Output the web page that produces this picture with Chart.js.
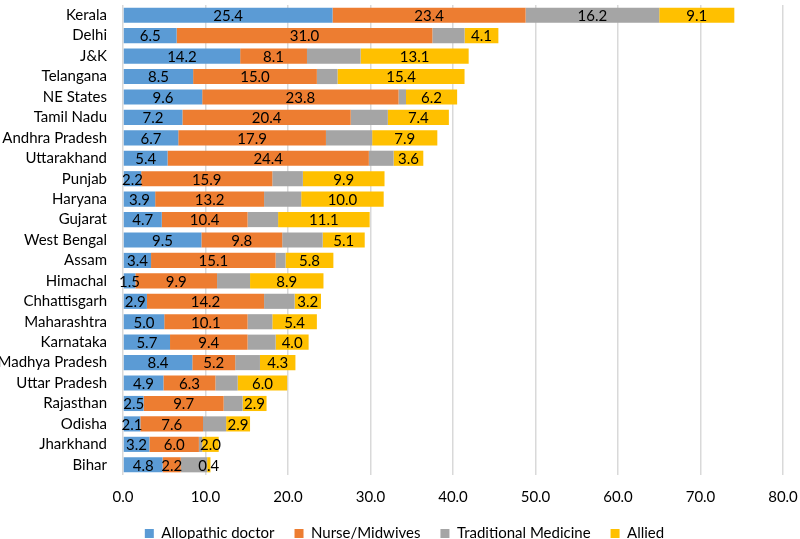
<!DOCTYPE html>
<html lang="en">
<head>
    <meta charset="UTF-8">
    <title>Health workforce by state</title>
    <script src="https://cdn.jsdelivr.net/npm/chart.js"></script>
    <style>
        body { margin: 0; background: #fff; }
        #chartContainer { width: 800px; height: 539px; }
    </style>
</head>
<body>
    <div id="chartContainer">
        <canvas id="workforceChart" width="800" height="539"></canvas>
    </div>
    <script>
        // States, top to bottom
        const states = ["Kerala", "Delhi", "J&K", "Telangana", "NE States", "Tamil Nadu", "Andhra Pradesh",
            "Uttarakhand", "Punjab", "Haryana", "Gujarat", "West Bengal", "Assam", "Himachal", "Chhattisgarh",
            "Maharashtra", "Karnataka", "Madhya Pradesh", "Uttar Pradesh", "Rajasthan", "Odisha", "Jharkhand", "Bihar"];

        const allopathic = [25.4, 6.5, 14.2, 8.5, 9.6, 7.2, 6.7, 5.4, 2.2, 3.9, 4.7, 9.5, 3.4, 1.5, 2.9, 5.0, 5.7, 8.4, 4.9, 2.5, 2.1, 3.2, 4.8];
        const nurses = [23.4, 31.0, 8.1, 15.0, 23.8, 20.4, 17.9, 24.4, 15.9, 13.2, 10.4, 9.8, 15.1, 9.9, 14.2, 10.1, 9.4, 5.2, 6.3, 9.7, 7.6, 6.0, 2.2];
        const traditional = [16.2, 3.9, 6.5, 2.5, 0.9, 4.5, 5.6, 3.0, 3.7, 4.5, 3.7, 4.9, 1.2, 4.0, 3.7, 3.0, 3.4, 3.0, 2.7, 2.3, 2.8, 0.4, 3.2];
        const allied = [9.1, 4.1, 13.1, 15.4, 6.2, 7.4, 7.9, 3.6, 9.9, 10.0, 11.1, 5.1, 5.8, 8.9, 3.2, 5.4, 4.0, 4.3, 6.0, 2.9, 2.9, 2.0, 0.4];
        const tradLabelled = ["Kerala"];

        const xTicks = [0, 10, 20, 30, 40, 50, 60, 70, 80];

        const FONT = "Lato, 'Open Sans', sans-serif";
        const TEXT = "#000000";

        // Simple value labels drawn in the middle of each segment
        const segmentLabels = {
            id: "segmentLabels",
            afterDatasetsDraw(chart) {
                const ctx = chart.ctx;
                ctx.save();
                ctx.font = "15px " + FONT;
                ctx.fillStyle = TEXT;
                ctx.textAlign = "center";
                ctx.textBaseline = "middle";
                chart.data.datasets.forEach((ds, di) => {
                    const meta = chart.getDatasetMeta(di);
                    meta.data.forEach((bar, i) => {
                        if (ds.label === "Traditional Medicine" && !tradLabelled.includes(states[i])) return;
                        const cx = (bar.x + bar.base) / 2;
                        ctx.fillText(ds.data[i].toFixed(1), cx, bar.y + 1);
                    });
                });
                ctx.restore();
            }
        };

        // Fix the legend height so the plot gets the room above it, and nudge it a bit
        const legendTweak = {
            id: "legendTweak",
            beforeInit(chart) {
                const fit = chart.legend.fit;
                chart.legend.fit = function () {
                    fit.bind(chart.legend)();
                    this.height = 35;
                };
            },
            afterLayout(chart) {
                chart.legend.left += 13;
                chart.legend.right += 13;
                chart.legend.top += 2;
                chart.legend.bottom += 2;
            }
        };

        const ctx = document.getElementById("workforceChart").getContext("2d");
        new Chart(ctx, {
            type: "bar",
            data: {
                labels: states,
                datasets: [
                    { label: "Allopathic doctor", data: allopathic, backgroundColor: "#5B9BD5" },
                    { label: "Nurse/Midwives", data: nurses, backgroundColor: "#ED7D31" },
                    { label: "Traditional Medicine", data: traditional, backgroundColor: "#A5A5A5" },
                    { label: "Allied", data: allied, backgroundColor: "#FFC000" },
                ],
            },
            options: {
                indexAxis: "y",
                responsive: false,
                animation: false,
                layout: { padding: { top: 5, right: 17, bottom: 0, left: 0 } },
                datasets: { bar: { barPercentage: 0.74, categoryPercentage: 1.0 } },
                plugins: {
                    legend: {
                        position: "bottom",
                        labels: {
                            font: { family: FONT, size: 15 },
                            color: TEXT,
                            boxWidth: 9,
                            boxHeight: 9,
                            padding: 20,
                        },
                    },
                    tooltip: { enabled: false },
                },
                scales: {
                    x: {
                        stacked: true,
                        min: 0,
                        max: 80,
                        afterBuildTicks: (scale) => { scale.ticks = xTicks.map(v => ({ value: v })); },
                        afterFit: (scale) => {
                            scale.paddingLeft = 0;
                            scale.paddingRight = 0;
                            scale.height = 29;
                        },
                        ticks: {
                            font: { family: FONT, size: 15 },
                            color: TEXT,
                            padding: 13,
                            callback: (v) => Number(v).toFixed(1),
                        },
                        grid: { color: "#d9d9d9", lineWidth: 1.5, drawTicks: false },
                        border: { display: false },
                    },
                    y: {
                        stacked: true,
                        afterFit: (scale) => {
                            scale.width = 123;
                            scale.paddingTop = 0;
                            scale.paddingBottom = 0;
                        },
                        ticks: {
                            font: { family: FONT, size: 15 },
                            color: TEXT,
                            padding: 16,
                            autoSkip: false,
                        },
                        grid: { display: false, drawTicks: false },
                        border: { display: false },
                    },
                },
            },
            plugins: [segmentLabels, legendTweak],
        });
    </script>
</body>
</html>
